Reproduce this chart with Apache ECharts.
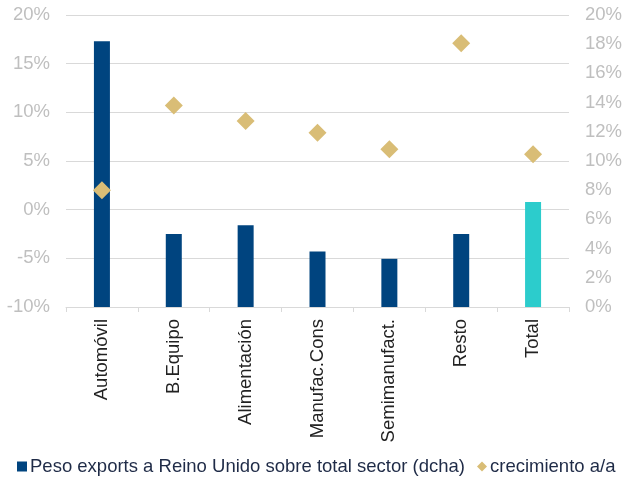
<!DOCTYPE html>
<html>
<head>
<meta charset="utf-8">
<script src="https://cdn.jsdelivr.net/npm/echarts@6/dist/echarts.min.js"></script>
<style>
  html, body { margin: 0; padding: 0; background: #fff; }
  #chart { width: 622px; height: 477px; }
</style>
</head>
<body>
<div id="chart"></div>
<script>
// sectores
var categories = ['Automóvil', 'B.Equipo', 'Alimentación', 'Manufac.Cons', 'Semimanufact.', 'Resto', 'Total'];
// peso exports a Reino Unido sobre total sector (eje dcha, %)
var pesoValues = [18.2, 5.0, 5.6, 3.8, 3.3, 5.0, 7.2];
// crecimiento a/a (eje izda, %)
var crecValues = [2.0, 10.7, 9.1, 7.9, 6.2, 17.1, 5.7];

var seriesNames = ['Peso exports a Reino Unido sobre total sector (dcha)', 'crecimiento a/a'];

var azul = '#00447f';
var turquesa = '#2ccccc';
var oro = '#d9bd76';
var font = 'Liberation Sans, Arial, sans-serif';
var fs = 18.5;

var barData = pesoValues.map(function (v, i) {
    if (categories[i] === 'Total') {
        return { value: v, itemStyle: { color: turquesa } };
    }
    return v;
});

var myChart = echarts.init(document.getElementById('chart'));
myChart.setOption({
    animation: false,
    textStyle: { fontFamily: font },
    grid: { left: 66, right: 53, top: 15, bottom: 170, outerBoundsMode: 'none' },
    legend: {
        bottom: -4,
        left: 12,
        itemGap: 12,
        itemWidth: 10,
        itemHeight: 10,
        textStyle: { fontSize: fs, color: '#1f2b47', fontFamily: font, padding: [0, 0, 0, -2] },
        data: [
            { name: seriesNames[0], icon: 'rect' },
            { name: seriesNames[1], icon: 'diamond' }
        ]
    },
    xAxis: {
        type: 'category',
        data: categories,
        axisLine: { onZero: false, lineStyle: { color: '#d9d9d9' } },
        axisTick: { show: true, length: 5, lineStyle: { color: '#d9d9d9' } },
        axisLabel: {
            rotate: 90,
            margin: 12,
            fontSize: fs,
            color: '#222',
            fontFamily: font
        }
    },
    yAxis: [
        {
            type: 'value',
            min: -10,
            max: 20,
            interval: 5,
            position: 'left',
            axisLine: { show: false },
            axisTick: { show: false },
            splitLine: { lineStyle: { color: '#d9d9d9' } },
            axisLabel: {
                formatter: '{value}%',
                fontSize: fs,
                color: '#bfbfbf',
                margin: 16,
                fontFamily: font
            }
        },
        {
            type: 'value',
            min: 0,
            max: 20,
            interval: 2,
            position: 'right',
            axisLine: { show: false },
            axisTick: { show: false },
            splitLine: { show: false },
            axisLabel: {
                formatter: '{value}%',
                fontSize: fs,
                color: '#bfbfbf',
                margin: 16,
                fontFamily: font
            }
        }
    ],
    series: [
        {
            name: seriesNames[0],
            type: 'bar',
            yAxisIndex: 1,
            barWidth: 16,
            itemStyle: { color: azul },
            data: barData
        },
        {
            name: seriesNames[1],
            type: 'scatter',
            yAxisIndex: 0,
            symbol: 'diamond',
            symbolSize: 18,
            itemStyle: { color: oro, opacity: 1 },
            data: crecValues,
            z: 3
        }
    ]
});
</script>
</body>
</html>
